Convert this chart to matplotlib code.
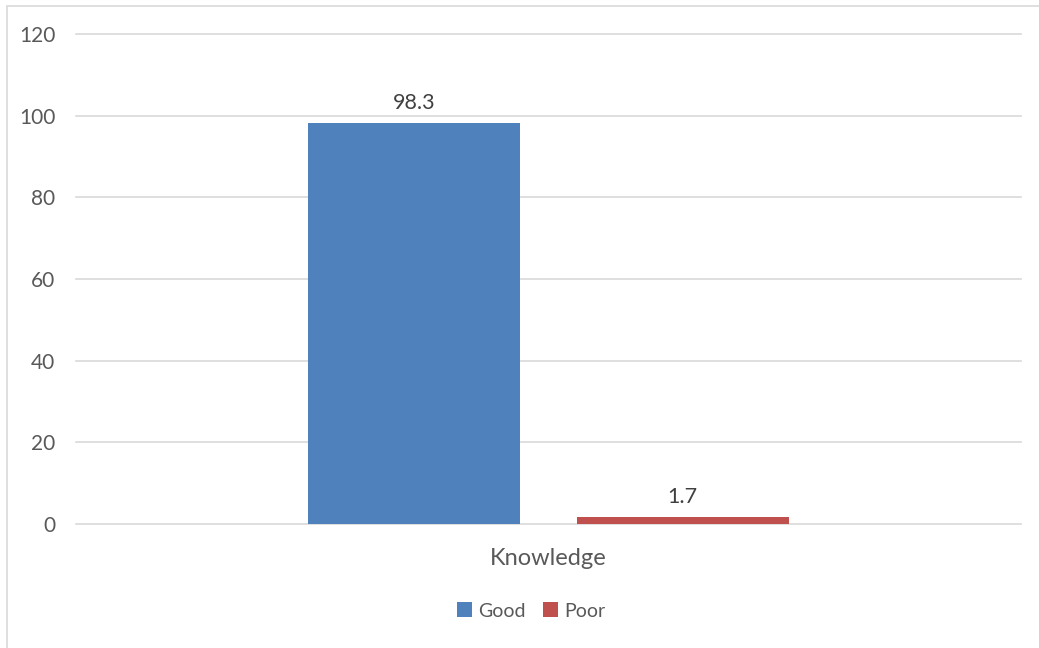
import matplotlib
matplotlib.use("Agg")
import matplotlib.pyplot as plt
from matplotlib.patches import Rectangle

plt.rcParams['font.family'] = ['Lato', 'DejaVu Sans']

category = "Knowledge"
series = ["Good", "Poor"]
values = [98.3, 1.7]
colors = ["#4F81BD", "#C0504D"]
yticks = [0, 20, 40, 60, 80, 100, 120]

text_color = "#595959"
grid_color = "#D9D9D9"

fig = plt.figure(figsize=(10.39, 6.48), dpi=100)
W, H = 1039, 648

# outer chart frame (runs past the right and bottom edges)
fig.patches.append(Rectangle((7 / W, -0.2), 1.2, 0.2 + (H - 6) / H,
                             transform=fig.transFigure,
                             fill=False, edgecolor=grid_color, linewidth=1.2))

ax = fig.add_axes([76 / W, 1 - 524 / H, (1021 - 76) / W, (524 - 34) / H])

bar_w = 0.224
offsets = [-0.142, 0.142]
for name, v, c, off in zip(series, values, colors, offsets):
    b = ax.bar(off, v, width=bar_w, color=c, label=name, zorder=3)
    ax.bar_label(b, labels=[f"{v}"], padding=7, fontsize=15.5, color="#404040")

ax.set_xlim(-0.5, 0.5)
ax.set_ylim(0, 120)
ax.set_yticks(yticks)
ax.set_yticklabels([str(t) for t in yticks], fontsize=15, color=text_color)
ax.tick_params(axis='y', length=0, pad=15)
ax.set_xticks([0])
ax.set_xticklabels([category], fontsize=17, color=text_color)
ax.tick_params(axis='x', length=0, pad=17)
ax.grid(axis='y', color=grid_color, linewidth=1.2, zorder=0)
for gl in ax.get_ygridlines():
    gl.set_clip_on(False)
for s in ax.spines.values():
    s.set_visible(False)

leg = fig.legend(loc='center', bbox_to_anchor=(531 / W, 1 - 611 / H), ncol=2, frameon=False,
                 fontsize=14, handlelength=0.8, handleheight=0.8, handletextpad=0.3,
                 columnspacing=0.9)
for t in leg.get_texts():
    t.set_color(text_color)

fig.savefig("out.png", dpi=100, facecolor="white")
